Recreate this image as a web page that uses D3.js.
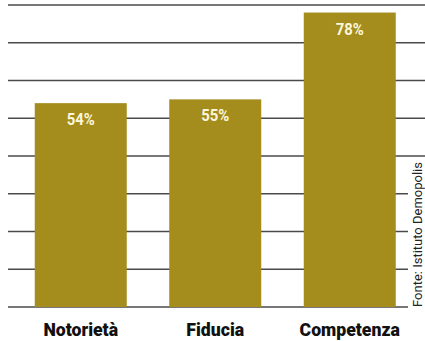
<!DOCTYPE html>
<html><head><meta charset="utf-8">
<script src="https://cdn.jsdelivr.net/npm/d3@7"></script>
<style>
html,body{margin:0;padding:0;background:#fff;}
svg{display:block;}
</style></head>
<body>
<svg id="c" width="425" height="341"></svg>
<script>
const categories = ["Notorietà", "Fiducia", "Competenza"];
const values = [54, 55, 78];
const valueLabels = ["54%", "55%", "78%"];
const gridTicks = [0, 10, 20, 30, 40, 50, 60, 70, 80];
const sourceText = "Fonte: Istituto Demopolis";

const svg = d3.select("#c");
const W = 425, H = 341;
const y = d3.scaleLinear().domain([0, 80]).range([307, 5]);
const x = d3.scaleBand().domain(categories).range([13.5, 417]).paddingInner(0.316).paddingOuter(0.158);

const font = "'Roboto', 'Liberation Sans', sans-serif";

// source text bounds
const srcX = 422, srcTop = 162, srcBottom = 307;

// gridlines
svg.append("g").selectAll("line").data(gridTicks).join("line")
  .attr("x1", 8)
  .attr("x2", d => y(d) > srcTop - 6 ? 408 : W)
  .attr("y1", d => y(d)).attr("y2", d => y(d))
  .attr("stroke", "#4a4a4a").attr("stroke-width", 1.3);

// bars
svg.append("g").selectAll("rect").data(values).join("rect")
  .attr("x", (d, i) => x(categories[i]))
  .attr("width", x.bandwidth())
  .attr("y", d => y(d))
  .attr("height", d => y(0) - y(d))
  .attr("fill", "#a48d1c");

// value labels
svg.append("g").selectAll("text").data(values).join("text")
  .attr("x", (d, i) => x(categories[i]) + x.bandwidth() / 2)
  .attr("y", d => y(d) + 22)
  .attr("text-anchor", "middle")
  .attr("font-family", font)
  .attr("font-weight", "bold")
  .attr("font-size", 16.5)
  .attr("fill", "#fbf6dc")
  .text((d, i) => valueLabels[i])
  .each(function () {
    const L = this.getComputedTextLength();
    d3.select(this).attr("textLength", L * 0.9).attr("lengthAdjust", "spacingAndGlyphs");
  });

// category labels (condensed)
svg.append("g").selectAll("text").data(categories).join("text")
  .attr("x", d => x(d) + x.bandwidth() / 2)
  .attr("y", 336)
  .attr("text-anchor", "middle")
  .attr("font-family", font)
  .attr("font-weight", 900)
  .attr("font-size", 18)
  .attr("fill", "#111")
  .text(d => d)
  .each(function () {
    const L = this.getComputedTextLength();
    d3.select(this).attr("textLength", L * 0.98).attr("lengthAdjust", "spacingAndGlyphs");
  });

// source
svg.append("text")
  .attr("transform", `translate(${srcX},${srcBottom}) rotate(-90)`)
  .attr("font-family", font)
  .attr("font-size", 12.5)
  .attr("fill", "#222")
  .attr("textLength", srcBottom - srcTop)
  .attr("lengthAdjust", "spacingAndGlyphs")
  .text(sourceText);
</script>
</body></html>
